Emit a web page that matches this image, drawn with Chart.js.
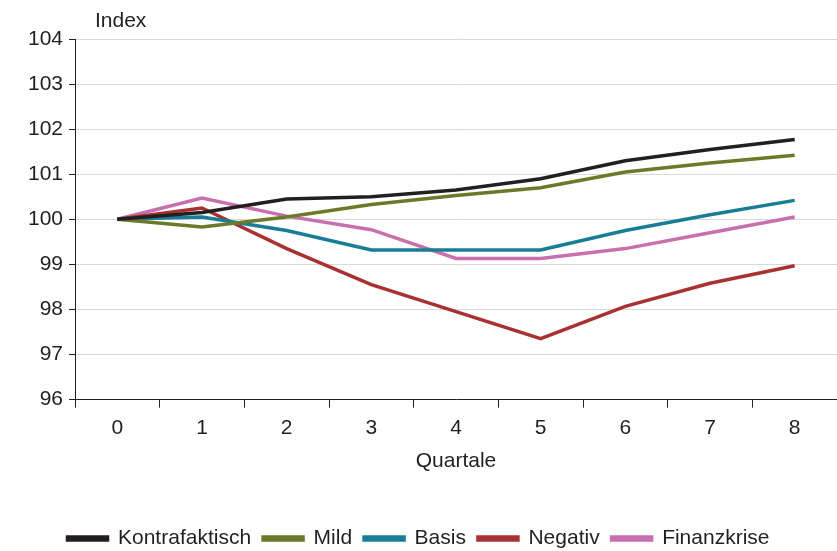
<!DOCTYPE html>
<html><head><meta charset="utf-8">
<script src="https://cdn.jsdelivr.net/npm/chart.js"></script>
<style>html,body{margin:0;padding:0;background:#fff}#w{width:837px;height:551px}</style>
</head><body><div id="w"><canvas id="c"></canvas></div>
<script>
const categories=['0','1','2','3','4','5','6','7','8'];
const kontrafaktisch=[100,100.15,100.45,100.5,100.65,100.9,101.3,101.55,101.77];
const mild=[100,99.83,100.05,100.33,100.53,100.7,101.05,101.25,101.42];
const basis=[100,100.05,99.75,99.32,99.32,99.32,99.75,100.1,100.42];
const negativ=[100,100.25,99.35,98.55,97.95,97.35,98.07,98.58,98.97];
const finanzkrise=[100,100.47,100.07,99.77,99.13,99.13,99.35,99.7,100.05];
const F='"Liberation Sans", Arial, sans-serif';
Chart.defaults.font.family=F;Chart.defaults.color='#231f20';
const ds=(l,d,c)=>({label:l,data:d,borderColor:c,backgroundColor:c,borderWidth:3.5,pointRadius:0,tension:0});
new Chart(document.getElementById('c'),{type:'line',
data:{labels:categories,datasets:[ds('Kontrafaktisch',kontrafaktisch,'#231f20'),ds('Mild',mild,'#6b7a2a'),ds('Basis',basis,'#1a7d96'),ds('Negativ',negativ,'#a83232'),ds('Finanzkrise',finanzkrise,'#c86fad')]},
options:{responsive:true,maintainAspectRatio:false,animation:false,
layout:{padding:{top:39,right:0,left:0,bottom:-8}},
plugins:{legend:{position:'bottom',labels:{boxWidth:40,boxHeight:3,font:{size:21},padding:12}},tooltip:{enabled:false}},
scales:{x:{offset:true,grid:{display:true,offset:true,drawOnChartArea:false,color:'#231f20',tickLength:8},border:{color:'#231f20'},
 ticks:{font:{size:21},padding:8},title:{display:true,text:'Quartale',font:{size:21},padding:{top:0,bottom:42}}},
 y:{min:96,max:104,afterFit(s){s.width=75;},ticks:{stepSize:1,font:{size:21},padding:6},grid:{color:'#d9d9d9',tickLength:6,tickColor:'#231f20'},border:{color:'#231f20'}}}},
plugins:[{id:'t',afterDraw(ch){const c=ch.ctx;c.save();c.font='21px '+F;c.fillStyle='#231f20';c.textBaseline='middle';c.fillText('Index',ch.chartArea.left+20,21);c.restore();}}]
});
</script></body></html>
